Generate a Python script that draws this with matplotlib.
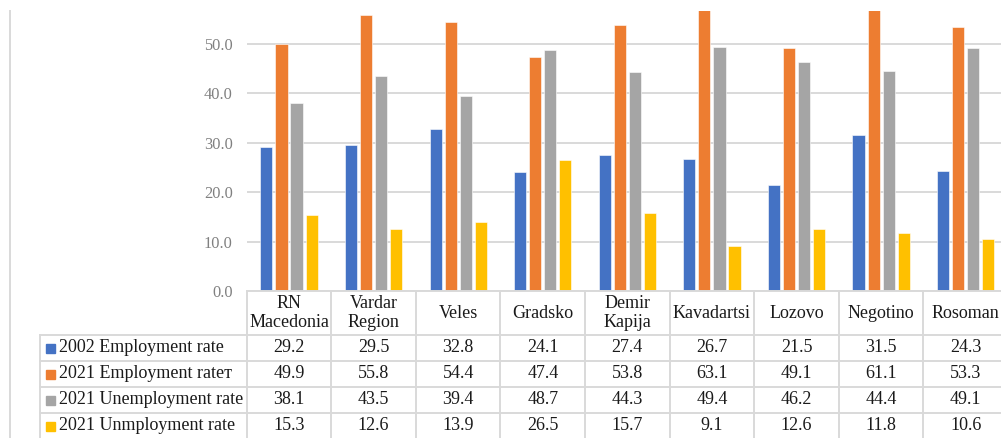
import matplotlib
matplotlib.use("Agg")
import matplotlib.pyplot as plt
import numpy as np

categories = ["RN\nMacedonia", "Vardar\nRegion", "Veles", "Gradsko", "Demir\nKapija",
              "Kavadartsi", "Lozovo", "Negotino", "Rosoman"]
series_names = ["2002 Employment rate", "2021 Employment rateт",
                "2021 Unemployment rate", "2021 Unmployment rate"]
emp_2002 = [29.2, 29.5, 32.8, 24.1, 27.4, 26.7, 21.5, 31.5, 24.3]
emp_2021 = [49.9, 55.8, 54.4, 47.4, 53.8, 63.1, 49.1, 61.1, 53.3]
unemp_2021 = [38.1, 43.5, 39.4, 48.7, 44.3, 49.4, 46.2, 44.4, 49.1]
unmp_2021 = [15.3, 12.6, 13.9, 26.5, 15.7, 9.1, 12.6, 11.8, 10.6]
yticks = [0, 10, 20, 30, 40, 50]

series = [emp_2002, emp_2021, unemp_2021, unmp_2021]
colors = ["#4472C4", "#ED7D31", "#A5A5A5", "#FFC000"]

W, H = 1001, 438
FONT = "Liberation Serif"
GRID = "#D9D9D9"

fig = plt.figure(figsize=(W / 100, H / 100), dpi=100)

def fx(px):
    return px / W

def fy(py):
    return 1 - py / H

ax_left, ax_right = 246.7, 1008.0
ax_top, ax_bottom = 11.0, 291.0
ax = fig.add_axes([fx(ax_left), fy(ax_bottom), fx(ax_right - ax_left), (ax_bottom - ax_top) / H])
ax.set_xlim(-0.5, len(categories) - 0.5)
ax.set_ylim(0, 56.6)

x = np.arange(len(categories))
bw = 0.143
step = 0.178
for i, (vals, c) in enumerate(zip(series, colors)):
    ax.bar(x + (i - 1.5) * step, vals, width=bw, color=c, zorder=3,
           edgecolor="white", linewidth=0.4)

ax.set_yticks(yticks)
ax.set_yticklabels([f"{v:.1f}" for v in yticks], fontfamily=FONT, fontsize=11.8, color="#808080")
ax.tick_params(axis="y", length=0, pad=10)
ax.tick_params(axis="x", length=0, labelbottom=False)
ax.yaxis.grid(True, color=GRID, linewidth=1.4, zorder=0)
for s in ax.spines.values():
    s.set_visible(False)

# Table lines
lc = GRID
lw = 1.4
col_edges = [ax_left + i * (ax_right - ax_left) / len(categories) for i in range(len(categories) + 1)]
row_edges = [291, 335, 361, 387, 413, 439]
legend_left = 40

def hline(y, x0, x1):
    fig.add_artist(plt.Line2D([fx(x0), fx(x1)], [fy(y), fy(y)], color=lc, linewidth=lw))

def vline(xp, y0, y1):
    fig.add_artist(plt.Line2D([fx(xp), fx(xp)], [fy(y0), fy(y1)], color=lc, linewidth=lw))

hline(row_edges[0], ax_left, ax_right)
for y in row_edges[1:-1]:
    hline(y, legend_left, ax_right)
for xp in col_edges:
    vline(xp, row_edges[0], H + 2)
vline(legend_left, row_edges[1], H + 2)
# outer chart border on the left
vline(10, 11, H + 2)

FS = 13.0
# Header labels
for i, cat in enumerate(categories):
    cx = (col_edges[i] + col_edges[i + 1]) / 2
    cy = (row_edges[0] + row_edges[1]) / 2
    fig.text(fx(cx), fy(cy), cat, ha="center", va="center", fontfamily=FONT,
             fontsize=FS, color="#1A1A1A", linespacing=1.08)

# Data rows
for r, (name, vals, c) in enumerate(zip(series_names, series, colors)):
    cy = (row_edges[r + 1] + row_edges[r + 2]) / 2
    fig.add_artist(plt.Rectangle((fx(46), fy(cy + 4.5)), fx(9), 9 / H, color=c,
                                 transform=fig.transFigure))
    fig.text(fx(59), fy(cy), name, ha="left", va="center", fontfamily=FONT,
             fontsize=FS, color="#1A1A1A")
    for i, v in enumerate(vals):
        cx = (col_edges[i] + col_edges[i + 1]) / 2
        fig.text(fx(cx), fy(cy), f"{v:.1f}", ha="center", va="center", fontfamily=FONT,
                 fontsize=FS, color="#1A1A1A")

fig.savefig("out.png", dpi=100)
